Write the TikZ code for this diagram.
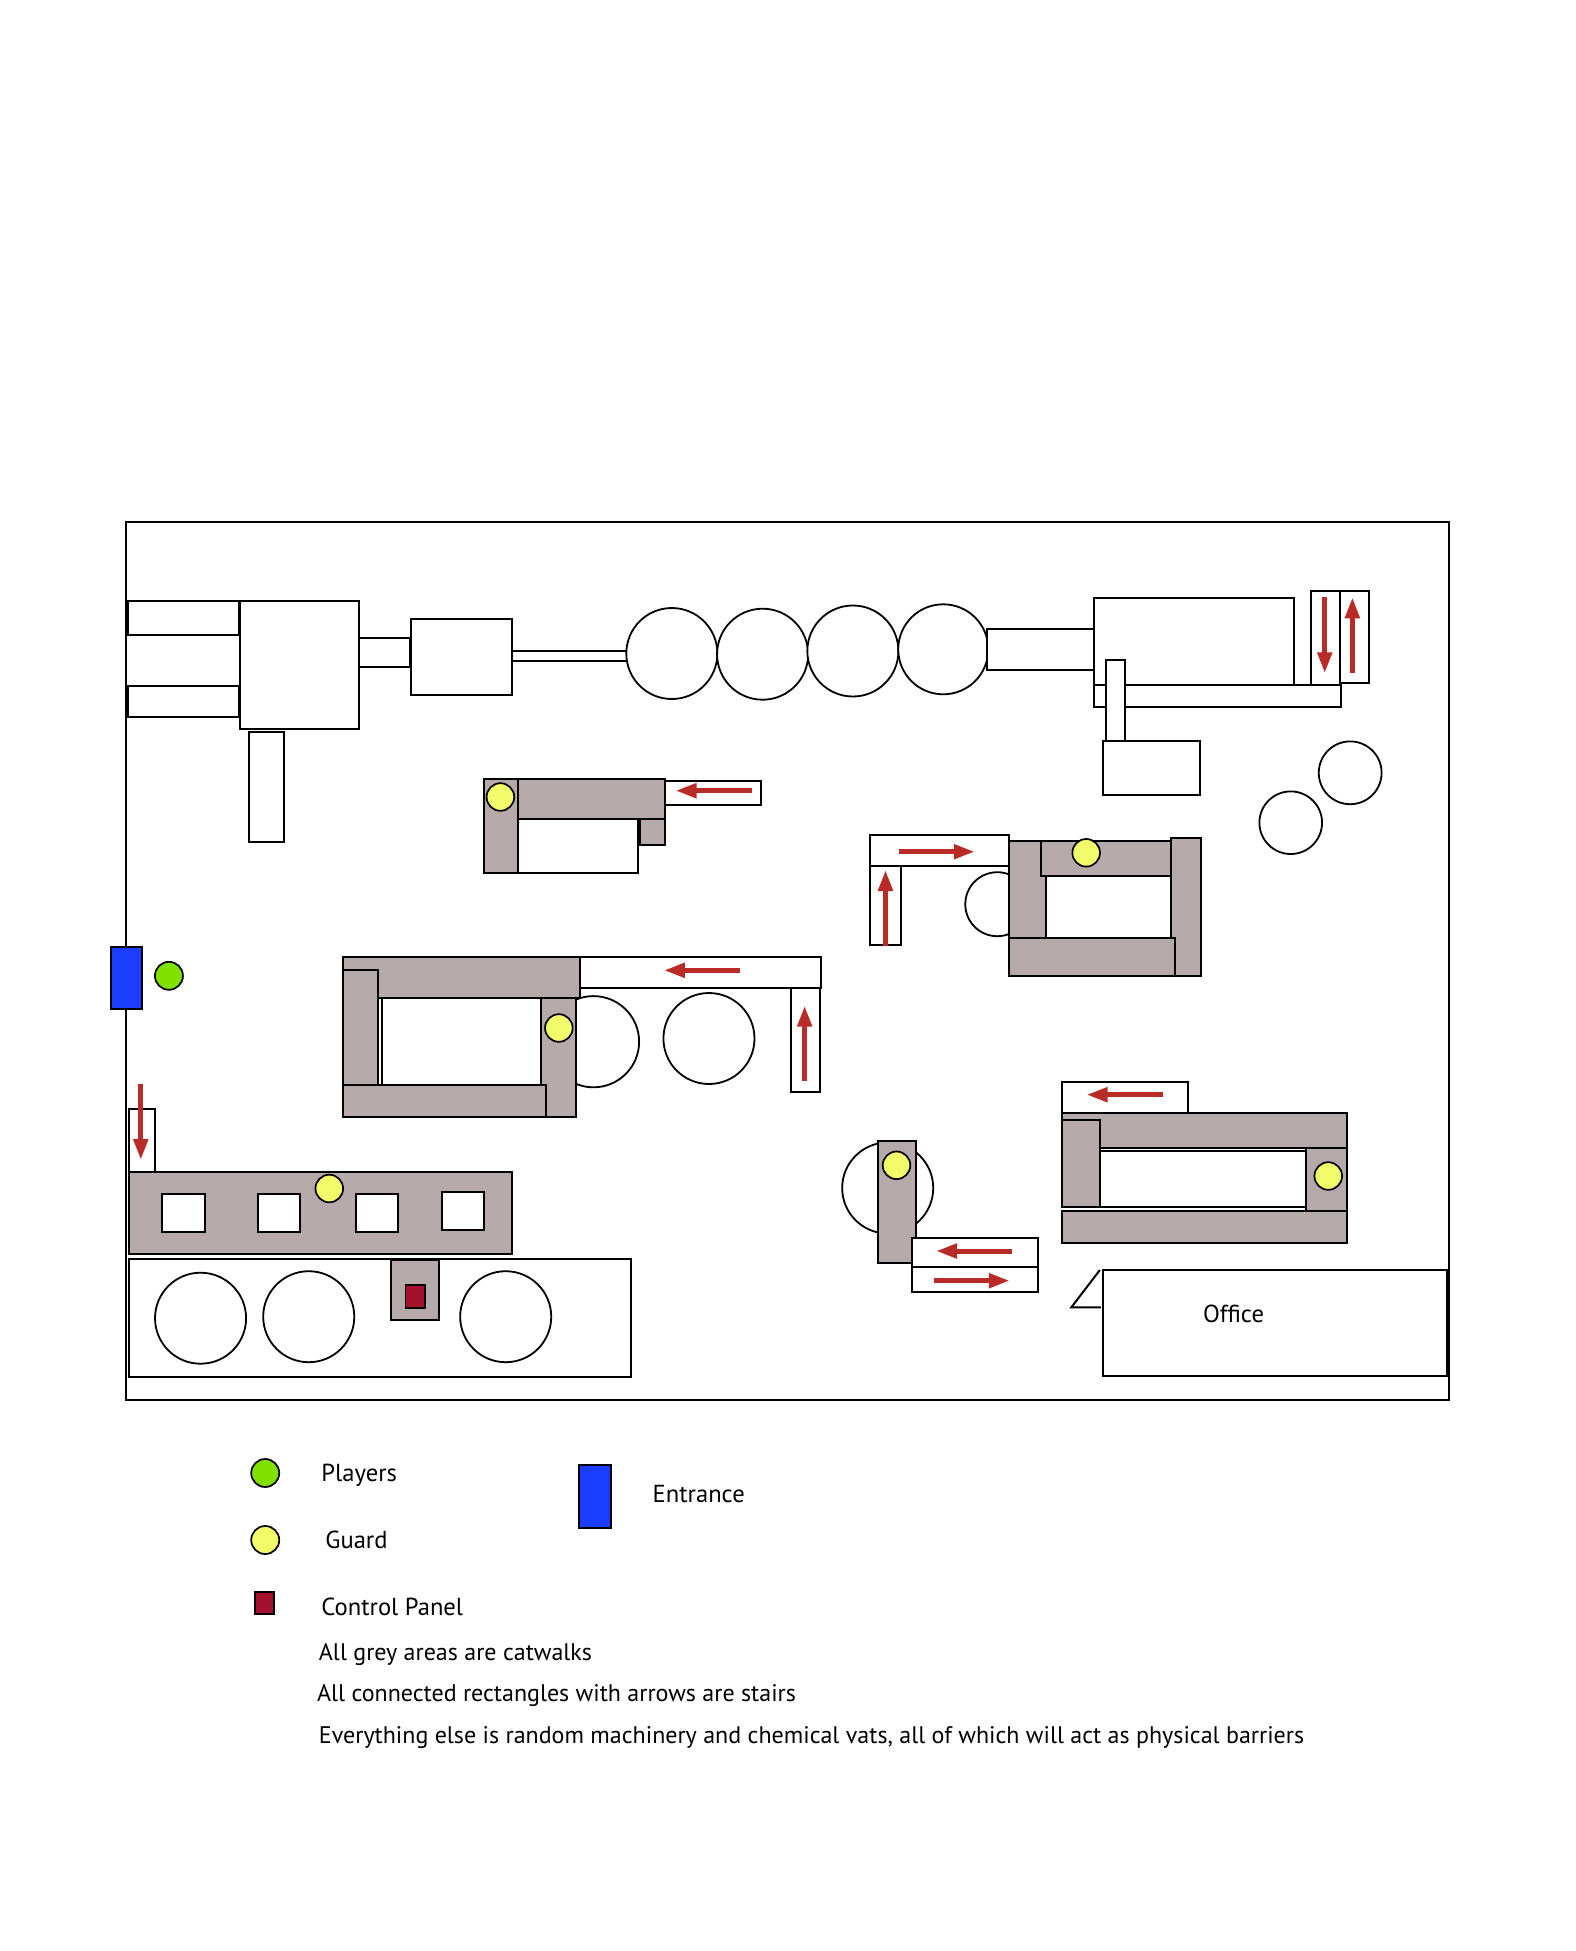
\documentclass[tikz,border=0pt]{standalone}
\usepackage{fontspec}
\setmainfont{PT Sans}
\usetikzlibrary{arrows.meta}
\definecolor{cat}{HTML}{B5A9A9}
\definecolor{guardc}{HTML}{F2FC6A}
\definecolor{playerc}{HTML}{80E000}
\definecolor{entc}{HTML}{1A3DFF}
\definecolor{stairred}{HTML}{B92B27}
\definecolor{panelc}{HTML}{A5102F}
\tikzset{
  x=1.0008pt,y=-1pt,
  mach/.style={draw=black,line width=2pt,fill=white},
  catw/.style={draw=black,line width=2pt,fill=cat},
  vat/.style={draw=black,line width=1.8pt,fill=white},
  guardpt/.style={draw=black,line width=1.7pt,fill=guardc},
  playerpt/.style={draw=black,line width=1.7pt,fill=playerc},
  entr/.style={draw=black,line width=2pt,fill=entc},
  panel/.style={draw=black,line width=1.7pt,fill=panelc},
  stairarrow/.style={draw=stairred,line width=5pt,-{Triangle[length=21pt,width=14pt]}},
  lab/.style={anchor=west,inner sep=0pt,font=\fontsize{24}{28}\selectfont},
  labb/.style={lab,font=\fontsize{24.6}{28}\selectfont},
}
\begin{document}
\begin{tikzpicture}
\useasboundingbox (0pt,0pt) rectangle (1575pt,-1951pt);
\fill[white] (0pt,0pt) rectangle (1575pt,-1951pt);
% outer wall
\draw[line width=2.2pt] (126,522) rectangle (1448,1400);
% top machinery line
\draw[mach] (127.7,601) rectangle (238.4,635);
\draw[mach] (127.7,685.7) rectangle (238.4,716.7);
\draw[mach] (239.7,600.7) rectangle (358.5,729.3);
\draw[mach] (359,638.3) rectangle (410,666.7);
\draw[mach] (411,619.3) rectangle (511.6,695);
\draw[mach] (511.6,651) rectangle (628,660.7);
\draw[mach] (249,732.3) rectangle (283.5,842);
\draw[vat] (671.3,653.5) circle (45.5);
\draw[vat] (762,654.2) circle (45.5);
\draw[vat] (852.2,651) circle (45.5);
\draw[vat] (942.5,649.3) circle (45);
\draw[mach] (986,629) rectangle (1092.9,670);
\draw[mach] (1092.9,598) rectangle (1293.3,685);
\draw[mach] (1092.9,685) rectangle (1339.7,707.3);
\draw[mach] (1105.4,660.3) rectangle (1124,741.3);
\draw[mach] (1102,741.3) rectangle (1199,795);
\draw[mach] (1310,591.3) rectangle (1338.8,685);
\draw[mach] (1338.8,591.3) rectangle (1368.3,682.7);
\draw[stairarrow] (1323.7,597.3) -- (1323.7,673.3);
\draw[stairarrow] (1351.3,673.3) -- (1351.3,597.3);
\draw[vat] (1349.1,772.8) circle (31.4);
\draw[vat] (1289.7,822.7) circle (31.3);
% catwalk A
\draw[mach] (517.9,819.3) rectangle (637,872.7);
\draw[catw] (483.5,779) rectangle (517.9,872.7);
\draw[catw] (517.9,779) rectangle (664.7,819.3);
\draw[catw] (639.7,819.3) rectangle (664.7,845);
\draw[mach] (664.7,781) rectangle (760.7,805);
\draw[stairarrow] (750.9,790.7) -- (675,790.7);
\draw[guardpt] (500,797) circle (13.8);
% catwalk B
\draw[mach] (868.8,835) rectangle (1008,866.3);
\draw[mach] (868.8,866.3) rectangle (900,945);
\draw[stairarrow] (897.8,851.7) -- (974,851.7);
\draw[stairarrow] (884.8,946) -- (884.8,870);
\draw[vat] (996.5,904.2) circle (32);
\draw[catw] (1008.5,841.3) rectangle (1045.5,938.3);
\draw[catw] (1039.7,841.3) rectangle (1170.5,876);
\draw[mach] (1045.5,876) rectangle (1169.6,938.3);
\draw[catw] (1170.5,838.3) rectangle (1199.6,976);
\draw[catw] (1008.5,938.3) rectangle (1174,976);
\draw[guardpt] (1085.3,852.8) circle (13.8);
% entrance and player
\draw[entr] (110.5,946.7) rectangle (142,1009.3);
\draw[playerpt] (168.8,975.8) circle (14);
% catwalk C
\draw[vat] (593,1041.7) circle (45.6);
\draw[vat] (708.4,1038.5) circle (45.5);
\draw[catw] (343,957.3) rectangle (579.7,998);
\draw[catw] (541,998) rectangle (575.9,1116.7);
\draw[mach] (381.2,998) rectangle (541,1085);
\draw[catw] (343,970) rectangle (377.4,1085);
\draw[mach] (377.4,998) rectangle (381.2,1085);
\draw[catw] (343,1085) rectangle (545.8,1116.7);
\draw[mach] (579.7,957.3) rectangle (820.8,988.3);
\draw[mach] (790.7,988.3) rectangle (818.9,1092);
\draw[stairarrow] (739.5,970.3) -- (663.4,970.3);
\draw[stairarrow] (804,1081.3) -- (804,1005.7);
\draw[guardpt] (558.4,1028) circle (13.8);
% catwalk D
\draw[mach] (129.2,1109.3) rectangle (154.5,1171.7);
\draw[catw] (129.2,1171.7) rectangle (511.8,1254.3);
\draw[stairarrow] (140.7,1084.3) -- (140.7,1160);
\draw[mach] (162.2,1194.3) rectangle (204.7,1232.3);
\draw[mach] (257.8,1194.3) rectangle (300,1232.3);
\draw[mach] (355.9,1194.3) rectangle (398,1232.3);
\draw[mach] (441.5,1192.3) rectangle (483.6,1230.3);
\draw[guardpt] (329,1188.5) circle (13.8);
% bottom vats
\draw[mach] (129.2,1259.3) rectangle (630.4,1377.3);
\draw[vat] (200.4,1318.2) circle (45.5);
\draw[vat] (308.5,1316.7) circle (45.5);
\draw[vat] (505.3,1316.7) circle (45.5);
\draw[catw] (390.8,1260.3) rectangle (438.2,1320);
\draw[panel] (405.2,1285) rectangle (424.8,1308);
% catwalk E
\draw[vat] (887,1188) circle (45.5);
\draw[catw] (876.8,1141.3) rectangle (915.2,1263.3);
\draw[guardpt] (895.8,1165.3) circle (13.8);
\draw[mach] (911.2,1238.3) rectangle (1037,1266.7);
\draw[mach] (911.2,1266.7) rectangle (1037,1291.7);
\draw[stairarrow] (1011.6,1251) -- (935.3,1251);
\draw[stairarrow] (933,1280.7) -- (1009,1280.7);
% catwalk F
\draw[mach] (1061.2,1082) rectangle (1187,1112.7);
\draw[stairarrow] (1161.6,1094.7) -- (1085.7,1094.7);
\draw[mach] (1099,1151) rectangle (1305.4,1206.7);
\draw[catw] (1061.2,1113.3) rectangle (1346,1148);
\draw[catw] (1061.2,1120) rectangle (1099,1207.3);
\draw[catw] (1061.2,1211.3) rectangle (1346,1242.7);
\draw[catw] (1305.4,1148) rectangle (1346,1211.3);
\draw[guardpt] (1327.2,1176) circle (13.8);
% office
\draw[mach] (1102,1270) rectangle (1446,1375.7);
\draw[line width=2pt] (1099,1270) -- (1070.5,1307.3) -- (1100,1307.3);
\node[labb,anchor=center] (office) at (1232.5,1314) {Office};
% legend
\draw[playerpt] (265,1473) circle (14);
\draw[guardpt] (265,1540) circle (14);
\draw[panel] (255,1592) rectangle (274,1614);
\draw[entr] (579,1465) rectangle (611,1528);
\node[labb] (players) at (321,1475) {Players};
\node[labb] (guard) at (325,1540) {Guard};
\node[labb] (cpanel) at (321,1606.5) {Control Panel};
\node[labb] (entrance) at (652,1494) {Entrance};
\node[lab] (l1) at (318.5,1654.5) {All grey areas are catwalks};
\node[lab] (l2) at (316.6,1695.5) {All connected rectangles with arrows are stairs};
\node[lab] (l3) at (318.5,1737.5) {Everything else is random machinery and chemical vats, all of which will act as physical barriers};
\end{tikzpicture}
\end{document}
